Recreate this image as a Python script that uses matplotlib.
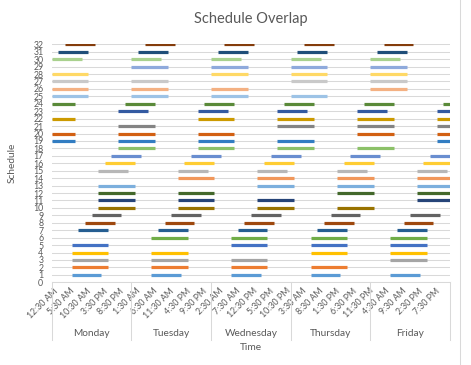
import colorsys
import matplotlib
matplotlib.use('Agg')
import matplotlib.pyplot as plt
from matplotlib.colors import to_rgb
from matplotlib.transforms import blended_transform_factory

plt.rcParams['font.family'] = ['Lato', 'DejaVu Sans']

# schedules 1..32, segments given in hours from Monday 00:00
schedules = list(range(1, 33))
seg_start = [
    [6, 30, 54, 78, 102],
    [6, 30, 54, 78],
    [6, 30, 54, 102],
    [6, 30, 78, 102],
    [6, 54, 78, 102],
    [30, 54, 78, 102],
    [8, 32, 56, 80, 104],
    [10, 34, 58, 82, 106],
    [12, 36, 60, 84, 108],
    [14, 38, 62, 86],
    [14, 38, 62, 110],
    [14, 38, 86, 110],
    [14, 62, 86, 110],
    [38, 62, 86, 110],
    [14, 38, 62, 86, 110],
    [16, 40, 64, 88, 112],
    [18, 42, 66, 90, 114],
    [20, 44, 68, 92],
    [0, 20, 44, 68, 116],
    [0, 20, 44, 92, 116],
    [20, 68, 92, 116],
    [0, 44, 68, 92, 116],
    [20, 44, 68, 92, 116],
    [0, 22, 46, 70, 94, 118],
    [0, 24, 48, 72],
    [0, 24, 48, 96],
    [0, 24, 72, 96],
    [0, 48, 72, 96],
    [24, 48, 72, 96],
    [0, 24, 48, 72, 96],
    [2, 26, 50, 74, 98],
    [4, 28, 52, 76, 100],
]
seg_end = [
    [15, 39, 63, 87, 111],
    [17, 41, 65, 89],
    [17, 41, 65, 113],
    [17, 41, 89, 113],
    [17, 65, 89, 113],
    [41, 65, 89, 113],
    [17, 41, 65, 89, 113],
    [19, 43, 67, 91, 115],
    [21, 45, 69, 93, 117],
    [25, 49, 73, 97],
    [25, 49, 73, 120],
    [25, 49, 97, 120],
    [25, 73, 97, 120],
    [49, 73, 97, 120],
    [23, 47, 71, 95, 119],
    [25, 49, 73, 97, 120],
    [27, 51, 75, 99, 120],
    [31, 55, 79, 103],
    [7, 31, 55, 79, 120],
    [7, 31, 55, 103, 120],
    [31, 79, 103, 120],
    [7, 55, 79, 103, 120],
    [29, 53, 77, 101, 120],
    [7, 31, 55, 79, 103, 120],
    [11, 35, 59, 83],
    [11, 35, 59, 107],
    [11, 35, 83, 107],
    [11, 59, 83, 107],
    [35, 59, 83, 107],
    [9, 33, 57, 81, 105],
    [11, 35, 59, 83, 107],
    [13, 37, 61, 85, 109],
]

days = ['Monday', 'Tuesday', 'Wednesday', 'Thursday', 'Friday']
hour_labels = ['12:30 AM', '5:30 AM', '10:30 AM', '3:30 PM', '8:30 PM',
               '1:30 AM', '6:30 AM', '11:30 AM', '4:30 PM', '9:30 PM',
               '2:30 AM', '7:30 AM', '12:30 PM', '5:30 PM', '10:30 PM',
               '3:30 AM', '8:30 AM', '1:30 PM', '6:30 PM', '11:30 PM',
               '4:30 AM', '9:30 AM', '2:30 PM', '7:30 PM']

# Excel style colour cycle: accents, then darker / lighter variants
accents = ['#5B9BD5', '#ED7D31', '#A5A5A5', '#FFC000', '#4472C4', '#70AD47']
variants = [(1.0, 0.0), (0.6, 0.0), (0.8, 0.2), (0.8, 0.0), (0.6, 0.4), (0.5, 0.0)]


def shade(col, mod, off):
    h, l, s = colorsys.rgb_to_hls(*to_rgb(col))
    return colorsys.hls_to_rgb(h, min(1, l * mod + off), s)


colors = [shade(accents[i % 6], *variants[i // 6]) for i in range(len(schedules))]

txt = '#595959'
grid = '#D9D9D9'
W, H = 471, 365

fig = plt.figure(figsize=(4.71, 3.65), dpi=100)
ax = fig.add_axes([51.7 / W, 1 - 282.3 / H, (450 - 51.7) / W, (282.3 - 44.3) / H])

for k, s, e, c in zip(schedules, seg_start, seg_end, colors):
    ax.hlines([k] * len(s), s, e, color=c, lw=2.3, capstyle='butt', zorder=3)

ax.set_xlim(0, 120)
ax.set_ylim(0, 32)
ax.set_yticks(range(0, 33))
ax.set_yticklabels([str(v) for v in range(0, 33)], fontsize=6.3, color=txt)
ax.set_xticks([i + 0.5 for i in range(0, 120, 5)])
ax.set_xticklabels(hour_labels, rotation=45, ha='right', va='top',
                   rotation_mode='anchor', fontsize=6.3, color=txt)
ax.tick_params(length=0)
ax.tick_params(axis='y', pad=6)
ax.tick_params(axis='x', pad=3)
ax.grid(axis='y', color=grid, lw=0.75, zorder=0)
for sp in ax.spines.values():
    sp.set_visible(False)
ax.spines['bottom'].set_visible(True)
ax.spines['bottom'].set_color(grid)
ax.spines['bottom'].set_linewidth(0.75)

# day level of the axis
tr = blended_transform_factory(ax.transData, ax.transAxes)
low = -(340 - 282.3) / (282.3 - 44.3)
for d in range(len(days) + 1):
    ax.plot([24 * d, 24 * d], [0, low], transform=tr, color=grid, lw=0.75, clip_on=False)
for d, name in enumerate(days):
    ax.text(24 * d + 12, -(333 - 282.3) / (282.3 - 44.3), name, transform=tr,
            ha='center', va='center', fontsize=7.3, color=txt)

fig.text(251 / W, 1 - 347 / H, 'Time', ha='center', va='center', fontsize=7.3, color=txt)
fig.text(12 / W, 1 - 163 / H, 'Schedule', ha='center', va='center', rotation=90,
         fontsize=7.3, color=txt)
fig.text(251 / W, 1 - 19 / H, 'Schedule Overlap', ha='center', va='center',
         fontsize=10.5, color=txt)

fig.add_artist(plt.Line2D([460 / W, 460 / W], [0, 1], color=grid, lw=0.75))

fig.savefig('out.png', dpi=100)
